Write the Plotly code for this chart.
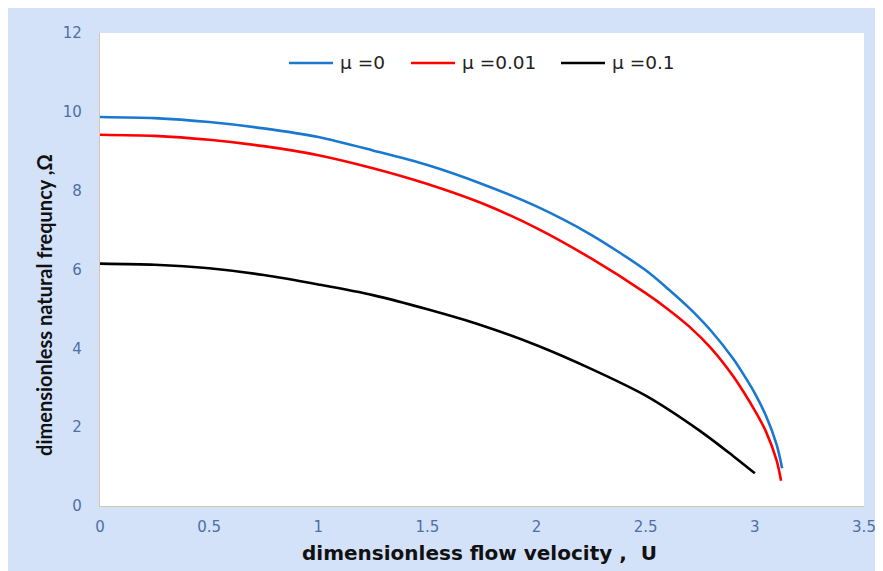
import plotly.graph_objects as go

# ---- data ----
u_mu0 = [0.0, 0.25, 0.5, 0.75, 1.0, 1.25, 1.5, 1.75, 2.0, 2.25, 2.5, 2.6, 2.7, 2.8, 2.9, 2.95, 3.0, 3.05, 3.1, 3.125]
w_mu0 = [9.87, 9.84, 9.74, 9.58, 9.36, 9.02, 8.65, 8.17, 7.60, 6.88, 5.98, 5.52, 5.02, 4.44, 3.74, 3.32, 2.86, 2.30, 1.55, 0.96]

u_mu001 = [0.0, 0.25, 0.5, 0.75, 1.0, 1.25, 1.5, 1.75, 2.0, 2.25, 2.5, 2.6, 2.7, 2.8, 2.9, 2.95, 3.0, 3.05, 3.1, 3.12]
w_mu001 = [9.42, 9.39, 9.29, 9.13, 8.90, 8.57, 8.17, 7.68, 7.05, 6.28, 5.40, 5.00, 4.55, 4.00, 3.30, 2.88, 2.42, 1.90, 1.15, 0.64]

u_mu01 = [0.0, 0.25, 0.5, 0.75, 1.0, 1.25, 1.5, 1.75, 2.0, 2.25, 2.5, 2.75, 2.9, 3.0]
w_mu01 = [6.15, 6.12, 6.03, 5.86, 5.62, 5.35, 4.99, 4.58, 4.08, 3.48, 2.80, 1.90, 1.27, 0.83]

series_names = ["\u03bc =0", "\u03bc =0.01", "\u03bc =0.1"]
series_colors = ["#1a78d0", "#ff0000", "#000000"]

x_tickvals = [0, 0.5, 1, 1.5, 2, 2.5, 3, 3.5]
x_ticktext = ["0", "0.5", "1", "1.5", "2", "2.5", "3", "3.5"]
y_tickvals = [0, 2, 4, 6, 8, 10, 12]

x_title = "dimensionless flow velocity ,  U"
y_title = "dimensionless natural frequncy ,\u03a9"

fig = go.Figure()
for xs, ys, name, col in zip([u_mu0, u_mu001, u_mu01], [w_mu0, w_mu001, w_mu01], series_names, series_colors):
    fig.add_trace(go.Scatter(x=xs, y=ys, mode="lines", name=name, showlegend=False,
                             line=dict(color=col, width=2.6, shape="spline", smoothing=0.8)))

BG = "#d3e2f8"
tick_font = dict(family="DejaVu Sans", size=15, color="#4f6fa6")

# legend drawn as line samples + labels (layout positions in paper units)
leg_line_x = [(0.2474, 0.3050), (0.4071, 0.4647), (0.6034, 0.6610)]
leg_text_x = [0.3115, 0.4712, 0.6676]
leg_y = 0.9366
shapes = []
annotations = []
for (x0, x1), tx, name, col in zip(leg_line_x, leg_text_x, series_names, series_colors):
    shapes.append(dict(type="line", xref="paper", yref="paper", x0=x0, x1=x1, y0=leg_y, y1=leg_y,
                       line=dict(color=col, width=2.6)))
    annotations.append(dict(text=name, xref="paper", yref="paper", x=tx, y=leg_y, xanchor="left",
                            yanchor="middle", showarrow=False,
                            font=dict(family="DejaVu Sans", size=18.5, color="#222222")))

annotations += [
    dict(text="<b>" + x_title + "</b>", xref="paper", yref="paper", x=0.497, y=-0.099,
         xanchor="center", yanchor="middle", showarrow=False,
         font=dict(family="DejaVu Sans", size=20, color="#111111")),
    dict(text="<b>" + y_title + "</b>", xref="paper", yref="paper", x=-0.074, y=0.426,
         xanchor="center", yanchor="middle", textangle=-90, showarrow=False,
         font=dict(family="Lato", size=20, color="#111111")),
]

fig.update_layout(
    width=883, height=571,
    paper_bgcolor=BG, plot_bgcolor="white",
    margin=dict(l=92, r=27, t=25, b=73),
    showlegend=False,
    xaxis=dict(range=[0, 3.5], tickvals=x_tickvals, ticktext=x_ticktext, showgrid=False, zeroline=False,
               showline=True, linecolor="#d6c7a6", linewidth=1.2, ticks="", tickfont=tick_font,
               ticklabelstandoff=7),
    yaxis=dict(range=[0, 12], tickvals=y_tickvals, showgrid=False, zeroline=False,
               showline=True, linecolor="#d6c7a6", linewidth=1.2, ticks="", tickfont=tick_font,
               ticklabelstandoff=14),
    shapes=shapes,
    annotations=annotations,
)

fig.write_html("out.html")
